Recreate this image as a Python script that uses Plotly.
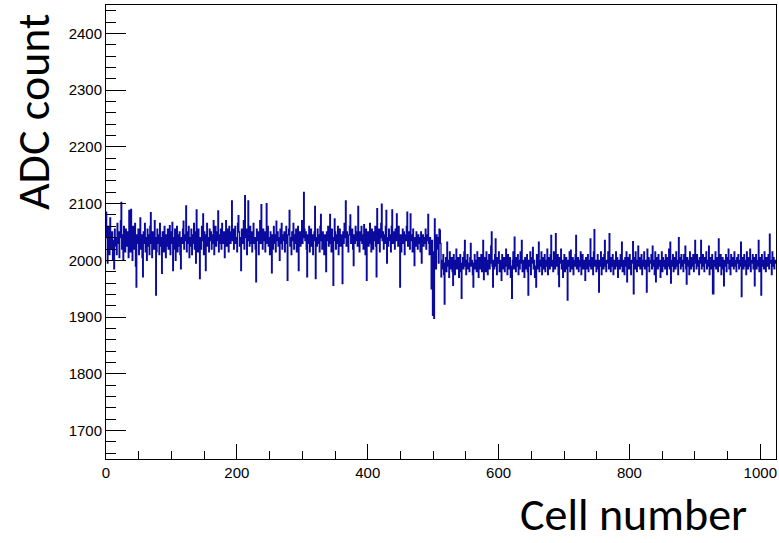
import numpy as np
import plotly.graph_objects as go

# ADC count per cell (bins 0..1023)
adc_first_half = [
    2085, 2040, 1995, 2060, 2030, 2010, 2075, 2045, 2020, 2050, 2000, 2035, 1985, 2055, 2025, 2040,
    2010, 2065, 2030, 2050, 2005, 2040, 2070, 2102, 2020, 2045, 2000, 2060, 2030, 2015, 2055, 2035,
    2025, 2050, 2005, 2088, 2030, 2015, 2090, 2040, 2000, 2060, 2035, 2020, 2065, 1990, 1953, 2045,
    2030, 2055, 2010, 2040, 2075, 2020, 2045, 2005, 1971, 2050, 2030, 2065, 2015, 2040, 2000, 2055,
    2025, 2045, 2010, 2060, 2084, 2030, 2005, 2050, 2035, 2020, 2070, 2040, 1939, 2015, 2055, 2030,
    2045, 2010, 2065, 2025, 2040, 1977, 2050, 2030, 2015, 2060, 2035, 2005, 2045, 2025, 2055, 2020,
    2040, 2061, 2010, 2050, 2030, 2067, 1982, 2040, 2020, 2055, 2000, 2035, 2060, 2015, 2045, 2025,
    2050, 2010, 1985, 2040, 2030, 2055, 2069, 2020, 2045, 2035, 2096, 2015, 2050, 2030, 2060, 2005,
    2040, 2025, 2055, 2010, 2045, 2030, 2065, 2020, 2050, 1995, 2089, 2035, 2015, 2055, 2030, 1968,
    2040, 2020, 2060, 2035, 2082, 2010, 2050, 2030, 1982, 2045, 2065, 2025, 2040, 2015, 2055, 2035,
    2050, 2020, 2045, 2030, 2070, 2010, 2040, 2060, 2025, 2050, 2035, 2087, 2015, 2045, 2030, 2055,
    2020, 2065, 2040, 2030, 2050, 2005, 2045, 2070, 2025, 2055, 2035, 2015, 2060, 2040, 2030, 2050,
    2105, 2035, 2055, 2020, 2045, 2060, 2030, 2040, 2015, 2065, 2079, 2050, 2025, 2040, 1982, 2055,
    2030, 2045, 2070, 2020, 2114, 2040, 2055, 2010, 2035, 2105, 2045, 2025, 2060, 2030, 2050, 2015,
    2045, 2065, 2030, 2040, 2020, 1962, 2055, 2035, 2050, 2010, 2045, 2070, 2030, 2098, 2040, 2020,
    2055, 2035, 2050, 2015, 2045, 2100, 2030, 2060, 2025, 2040, 2010, 2050, 2035, 1978, 2045, 2020,
    2060, 2030, 2045, 2015, 2069, 2035, 2050, 2025, 2040, 2000, 2055, 2030, 2065, 2020, 2045, 2035,
    2050, 2015, 2040, 2060, 2030, 1965, 2045, 2055, 2088, 2025, 2040, 2010, 2050, 2035, 2065, 2020,
    2045, 2030, 2055, 2015, 2040, 2060, 1982, 2035, 2050, 2025, 2045, 2070, 2030, 2040, 2120, 2055,
    2035, 2050, 2020, 1971, 2045, 2030, 2060, 2015, 2040, 2055, 2025, 2045, 2010, 2035, 2050, 2095,
    1968, 2040, 2025, 2055, 2030, 2045, 2015, 2060, 2081, 2035, 2020, 2050, 2040, 2010, 2045, 2030,
    1980, 2050, 2035, 2060, 2025, 2045, 2081, 2030, 2015, 2055, 2040, 1956, 2035, 2073, 2050, 2020,
    2045, 2030, 2060, 2010, 2040, 2055, 2025, 2045, 2035, 1959, 2050, 2030, 2065, 2040, 2105, 2025,
    2050, 2035, 2015, 2045, 2060, 2080, 2030, 2040, 2055, 2020, 1991, 2045, 2030, 2060, 2035, 2050,
    2025, 2095, 2040, 2015, 2050, 2035, 2060, 2030, 2045, 2020, 2063, 2040, 2010, 2055, 1965, 2035,
    2050, 2025, 2045, 2065, 2030, 2015, 2055, 2040, 2020, 2050, 2035, 2060, 2025, 1971, 2091, 2045,
    2030, 2055, 2015, 2040, 2065, 2099, 2035, 2050, 2020, 2045, 2030, 2060, 2088, 1995, 2040, 2025,
    2055, 2035, 2045, 2015, 2060, 2089, 2030, 2050, 2040, 2020, 2055, 2035, 2082, 2045, 2025, 2060,
    2030, 1953, 2045, 2015, 2040, 2055, 2030, 2050, 2010, 2045, 2035, 2060, 2085, 2025, 2040, 2050,
    2020, 2082, 2035, 2045, 2015, 2055, 2030, 1991, 2040, 2025, 2050, 2035, 2020, 2045, 2030, 2040,
    2015, 2050, 1995, 2035, 2045, 2025, 2040, 2030, 2055, 2020, 2035, 2045, 2081, 2030, 2010, 2040,
    2025, 1950, 2035, 1903, 2015, 1898, 2073, 2030, 1985, 2045, 2020, 2040, 1995, 2055, 2053, 2030,
]

adc_second_half = [
    1971, 2000, 1985, 2010, 1975, 1923, 1995, 2005, 1980, 2032, 1990, 2000, 1970, 2015, 1985, 1995,
    2005, 1980, 1956, 2010, 1990, 1975, 2000, 2020, 1985, 1995, 2005, 1970, 1990, 2010, 1980, 1933,
    1995, 2005, 1985, 2015, 2035, 1990, 1975, 2000, 2010, 1985, 1995, 1980, 2005, 2030, 1990, 2000,
    1975, 1953, 1995, 2010, 1985, 2000, 1980, 2015, 1990, 1970, 2005, 1995, 1985, 2010, 1980, 2000,
    2035, 1966, 1995, 2005, 1980, 2015, 1990, 1975, 2000, 2010, 1985, 1995, 2025, 2050, 1990, 1953,
    2000, 1985, 2010, 2038, 1990, 1975, 2005, 1995, 2015, 1980, 2000, 1990, 1965, 2010, 1985, 1995,
    2005, 1980, 2000, 2020, 1990, 1975, 2010, 1985, 1995, 2005, 1970, 1990, 1933, 2000, 2015, 1985,
    2041, 1995, 1980, 2005, 1990, 2010, 1975, 2000, 1985, 2015, 1995, 2035, 1980, 2000, 1990, 1970,
    2005, 1985, 1995, 2010, 1980, 1939, 2000, 1990, 2015, 1975, 1995, 2005, 2023, 1985, 2000, 1970,
    1990, 1953, 2010, 1985, 1995, 2032, 1980, 2000, 1990, 2015, 1975, 2005, 1995, 1985, 2010, 1980,
    2000, 1990, 2020, 1975, 1995, 2005, 1985, 2010, 2044, 1990, 2000, 1980, 2015, 1995, 1985, 2047,
    2000, 1990, 2010, 1975, 1954, 2005, 1995, 2020, 1985, 2000, 1970, 1990, 2010, 1980, 1995, 2005,
    1985, 1930, 2000, 1990, 2015, 1980, 2018, 1995, 1985, 2005, 1975, 2000, 1990, 2010, 2044, 1985,
    1995, 2005, 1980, 2000, 1990, 2015, 1975, 1995, 2010, 1985, 2000, 1990, 1965, 2005, 1985, 1995,
    2010, 1980, 2000, 1990, 2038, 1985, 2005, 1995, 1975, 2015, 2054, 1990, 2000, 1980, 1995, 2010,
    1985, 1944, 2000, 1990, 2015, 1975, 1995, 2005, 1985, 2010, 2035, 1990, 1980, 2000, 1995, 2015,
    1985, 2047, 1995, 1980, 2005, 1990, 2010, 1975, 2000, 1995, 1985, 2015, 1990, 2005, 1970, 1995,
    2000, 1985, 2010, 1990, 2032, 1980, 2000, 1995, 1975, 2005, 1990, 2015, 1962, 1995, 2005, 1985,
    2010, 1990, 1975, 2000, 1995, 2033, 1941, 2005, 1985, 2015, 1995, 1980, 2000, 2025, 1990, 2005,
    1985, 1995, 2010, 1975, 2000, 1990, 2015, 1985, 2000, 1995, 1944, 2020, 1990, 2005, 1980, 2000,
    1995, 2010, 1985, 2025, 1990, 2000, 1975, 2015, 1962, 1995, 2005, 1985, 2010, 1990, 2000, 1970,
    1995, 2015, 1980, 2005, 1990, 2000, 1985, 2010, 1995, 1975, 2005, 1990, 2020, 1985, 2032, 1960,
    2000, 1990, 2010, 1980, 2005, 1995, 1985, 2015, 1990, 2000, 1975, 2040, 1995, 2005, 1985, 2010,
    1990, 2000, 1980, 2010, 1995, 2025, 1985, 1958, 2005, 1990, 2000, 1975, 2015, 1995, 1985, 2005,
    1990, 2010, 1980, 2000, 2035, 1995, 1985, 2010, 1990, 2000, 1975, 2005, 1995, 2035, 1985, 2000,
    2010, 1990, 1980, 2005, 1995, 2015, 1985, 2000, 1990, 2025, 1975, 2005, 1995, 1985, 2010, 1941,
    1941, 2000, 1990, 2015, 1985, 2005, 1995, 1980, 2038, 2000, 1990, 2010, 1975, 1995, 2005, 1985,
    1955, 2000, 1990, 2010, 1980, 2005, 1995, 2020, 1985, 2000, 1975, 2010, 1990, 2005, 1995, 1985,
    2015, 1990, 2000, 1980, 2005, 1995, 2010, 1985, 2000, 1990, 2032, 1936, 2005, 1995, 1985, 2010,
    1990, 2000, 1975, 2015, 1995, 1985, 2005, 1990, 2020, 1980, 2000, 1995, 2010, 1985, 2005, 1955,
    1995, 2010, 1985, 2000, 1990, 2035, 1980, 2005, 1995, 1939, 2010, 1990, 2000, 1985, 2015, 1995,
    1980, 2005, 1990, 2000, 2010, 1985, 2046, 1995, 2000, 1975, 2015, 1990, 2005, 1985, 1995, 2000,
]

x_title = "Cell number"
y_title = "ADC count"
x_range = [0, 1024]
y_range = [1650, 2450]

adc = adc_first_half + adc_second_half
n = len(adc)
# step histogram: bin left edges plus final right edge
x_edges = list(np.arange(n + 1))
y_steps = adc + [adc[-1]]

fig = go.Figure()
fig.add_trace(go.Scatter(
    x=x_edges, y=y_steps, mode="lines", line_shape="hv",
    line=dict(color="#0a0a9e", width=1.3), showlegend=False, hoverinfo="skip",
))

W, H = 779, 543
L, R, T, B = 106, 3, 5, 84
pw, ph = W - L - R, H - T - B

tickfont = dict(family="Liberation Sans, Arial, sans-serif", size=15, color="black")
fig.update_xaxes(
    range=x_range, showgrid=False, zeroline=False,
    showline=True, linecolor="black", linewidth=1, mirror=True,
    ticks="inside", ticklen=15, tickwidth=1, tickcolor="black",
    dtick=200, tick0=0, tickfont=tickfont,
    minor=dict(ticks="inside", ticklen=8, dtick=50, tick0=0, tickcolor="black", showgrid=False),
)
fig.update_yaxes(
    range=y_range, showgrid=False, zeroline=False,
    showline=True, linecolor="black", linewidth=1, mirror=True,
    ticks="inside", ticklen=20, tickwidth=1, tickcolor="black",
    dtick=100, tick0=1700, tickfont=tickfont,
    minor=dict(ticks="inside", ticklen=10, dtick=20, tick0=1700, tickcolor="black", showgrid=False),
)

title_font = dict(family="Carlito, Lato, sans-serif", size=46, color="black")
fig.add_annotation(
    text=x_title, xref="paper", yref="paper",
    x=(633 - L) / pw, y=(H - B - 514) / ph,
    xanchor="center", yanchor="middle", showarrow=False, font=title_font,
)
fig.add_annotation(
    text=y_title, xref="paper", yref="paper",
    x=(33 - L) / pw, y=(H - B - 112) / ph, textangle=-90,
    xanchor="center", yanchor="middle", showarrow=False, font=title_font,
)

fig.update_layout(
    width=W, height=H, autosize=False,
    margin=dict(l=L, r=R, t=T, b=B),
    paper_bgcolor="white", plot_bgcolor="white",
)

fig.write_html("out.html")
